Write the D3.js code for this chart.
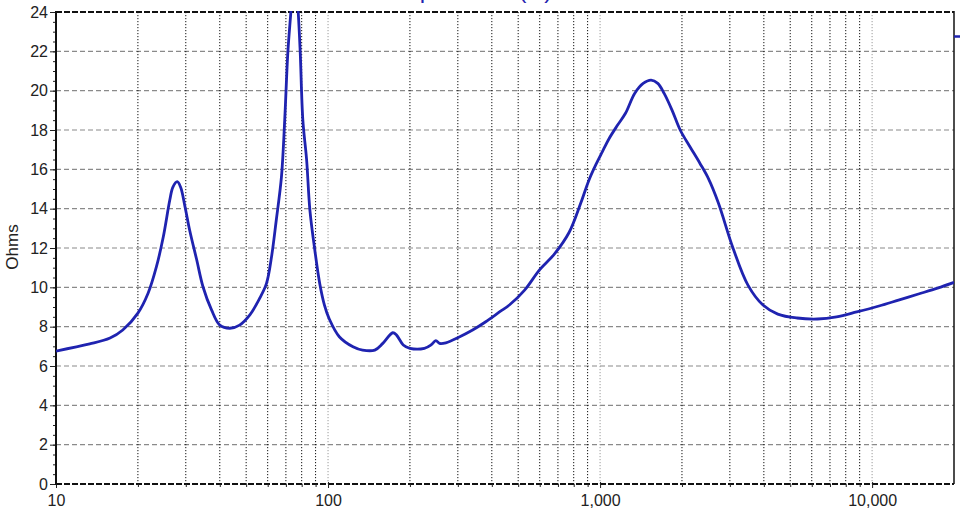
<!DOCTYPE html>
<html>
<head>
<meta charset="utf-8">
<script src="https://cdn.jsdelivr.net/npm/d3@7"></script>
<style>
  html, body { margin: 0; padding: 0; background: #fff; }
  svg { display: block; font-family: "Liberation Sans", Arial, sans-serif; }
</style>
</head>
<body>
<svg id="chart" width="960" height="513"></svg>
<script>
// ---- data ----
const freqHz = [10, 13.3, 15.8, 17.6, 20, 21.8, 23.4, 24.8, 26.2, 26.9, 27.9, 28.7, 29.8, 31.0, 32.9, 34.7, 37.3, 40, 43.6, 47.3, 51.6, 56.1, 59.4, 62.0, 64.5, 67.4, 69.3, 71.2, 73.1, 75.2, 77.6, 79.0, 80.8, 83.4, 85.8, 89.4, 93.2, 97, 101, 110, 123.5, 134, 148.5, 159, 173, 178.6, 189, 200, 226, 239, 249, 257, 271, 305, 340, 380, 428, 464, 528, 600, 680, 770, 850, 910, 970, 1020, 1080, 1160, 1240, 1340, 1440, 1540, 1630, 1720, 1840, 1970, 2140, 2330, 2500, 2720, 3080, 3500, 3970, 4500, 5300, 6300, 7400, 8780, 10600, 12500, 14800, 17400, 20000];
const impedanceOhms = [6.76, 7.12, 7.42, 7.83, 8.69, 9.7, 11.05, 12.57, 14.44, 15.1, 15.37, 15.1, 14.1, 12.9, 11.4, 10.03, 8.85, 8.08, 7.92, 8.08, 8.6, 9.45, 10.2, 11.56, 13.4, 15.6, 18.5, 22.0, 24.1, 26.5, 24.1, 22.0, 18.5, 16.5, 13.9, 11.9, 10.2, 9.1, 8.4, 7.49, 6.98, 6.81, 6.81, 7.15, 7.69, 7.57, 7.07, 6.9, 6.9, 7.07, 7.29, 7.15, 7.18, 7.49, 7.83, 8.25, 8.76, 9.1, 9.86, 10.9, 11.7, 12.8, 14.3, 15.45, 16.3, 16.9, 17.57, 18.25, 18.85, 19.86, 20.37, 20.54, 20.37, 19.86, 19.0, 18.0, 17.15, 16.3, 15.54, 14.3, 12.0, 10.1, 9.1, 8.64, 8.44, 8.39, 8.5, 8.75, 9.05, 9.35, 9.66, 9.96, 10.25];

const xMajorTicks = [10, 100, 1000, 10000];
const xMajorLabels = ["10", "100", "1,000", "10,000"];
const xMinorGrid = [20, 30, 40, 50, 60, 70, 80, 90, 200, 300, 400, 500, 600, 700, 800, 900, 2000, 3000, 4000, 5000, 6000, 7000, 8000, 9000];
const xDecadeGrid = [100, 1000, 10000];
const yTicks = [0, 2, 4, 6, 8, 10, 12, 14, 16, 18, 20, 22, 24];
const yMinorTicks = d3.range(0, 24.01, 0.5);

const titleText = "Impedance (Ω)";
const yLabel = "Ohms";

// ---- layout ----
const L = 56, R = 954, T = 12, B = 484;
const svg = d3.select("#chart");
const x = d3.scaleLog().domain([10, 20000]).range([L, R]);
const y = d3.scaleLinear().domain([0, 24]).range([B, T]);
const blue = "#1f23b0";

// title (cut off at top, as in the original)
svg.append("text").attr("x", 393).attr("y", -2)
  .attr("font-size", 24).attr("fill", blue).text(titleText);

// horizontal grid
svg.append("g").selectAll("line").data(yTicks.filter(v => v > 0 && v < 24)).join("line")
  .attr("x1", L).attr("x2", R).attr("y1", d => y(d)).attr("y2", d => y(d))
  .attr("stroke", "#8a8a8a").attr("stroke-width", 1.2).attr("stroke-dasharray", "5,3");

// vertical grid
svg.append("g").selectAll("line").data(xMinorGrid).join("line")
  .attr("x1", d => x(d)).attr("x2", d => x(d)).attr("y1", T).attr("y2", B)
  .attr("stroke", "#111").attr("stroke-width", 1).attr("stroke-dasharray", "1.2,1.8");
svg.append("g").selectAll("line").data(xDecadeGrid).join("line")
  .attr("x1", d => x(d)).attr("x2", d => x(d)).attr("y1", T).attr("y2", B)
  .attr("stroke", "#9a9a9a").attr("stroke-width", 1).attr("stroke-dasharray", "1.2,1.8");

// frame
svg.append("line").attr("x1", L).attr("x2", R).attr("y1", T).attr("y2", T)
  .attr("stroke", "#111").attr("stroke-width", 2).attr("stroke-dasharray", "6,2");
svg.append("line").attr("x1", L).attr("x2", R).attr("y1", B).attr("y2", B)
  .attr("stroke", "#111").attr("stroke-width", 2).attr("stroke-dasharray", "6,2");
svg.append("line").attr("x1", R).attr("x2", R).attr("y1", T - 1).attr("y2", B)
  .attr("stroke", "#111").attr("stroke-width", 1.5);

// axes
const yAxis = d3.axisLeft(y).tickValues(yTicks).tickSize(6).tickPadding(2).tickFormat(d3.format("d"));
const gy = svg.append("g").attr("transform", `translate(${L},0)`).call(yAxis);
const yMinor = d3.axisLeft(y).tickValues(yMinorTicks).tickSize(3).tickFormat("");
const gy2 = svg.append("g").attr("transform", `translate(${L},0)`).call(yMinor);

const xAxis = d3.axisBottom(x).tickValues(xMajorTicks).tickSize(4).tickPadding(7)
  .tickFormat((d, i) => xMajorLabels[i]);
const gx = svg.append("g").attr("transform", `translate(0,${B})`).call(xAxis);
const xMinor = d3.axisBottom(x).tickValues(xMinorGrid).tickSize(3).tickFormat("");
const gx2 = svg.append("g").attr("transform", `translate(0,${B})`).call(xMinor);

[gy, gy2, gx, gx2].forEach(g => {
  g.select(".domain").remove();
  g.selectAll(".tick line").attr("stroke", "#222");
  g.selectAll("text").attr("font-size", 16).attr("fill", "#222")
    .attr("font-family", "'Liberation Sans', Arial, sans-serif");
});
gx.selectAll(".tick line").attr("y1", -2);

svg.append("line").attr("x1", L).attr("x2", L).attr("y1", T - 1).attr("y2", B + 1)
  .attr("stroke", "#111").attr("stroke-width", 2);

// y label
svg.append("text").attr("transform", "translate(18,247) rotate(-90)")
  .attr("text-anchor", "middle").attr("font-size", 17).attr("fill", "#222").text(yLabel);

// clip + curve
svg.append("clipPath").attr("id", "plotclip").append("rect")
  .attr("x", L).attr("y", T - 1).attr("width", R - L).attr("height", B - T + 1);
const pts = freqHz.map((f, i) => [f, impedanceOhms[i]]);
const line = d3.line().x(d => x(d[0])).y(d => y(d[1])).curve(d3.curveCatmullRom.alpha(0.5));
svg.append("path").datum(pts).attr("clip-path", "url(#plotclip)")
  .attr("d", line).attr("fill", "none").attr("stroke", blue)
  .attr("stroke-width", 2.8).attr("stroke-linejoin", "round");

// legend stub at right edge
svg.append("line").attr("x1", R).attr("x2", 960).attr("y1", 36.5).attr("y2", 36.5)
  .attr("stroke", blue).attr("stroke-width", 2.5);
</script>
</body>
</html>
